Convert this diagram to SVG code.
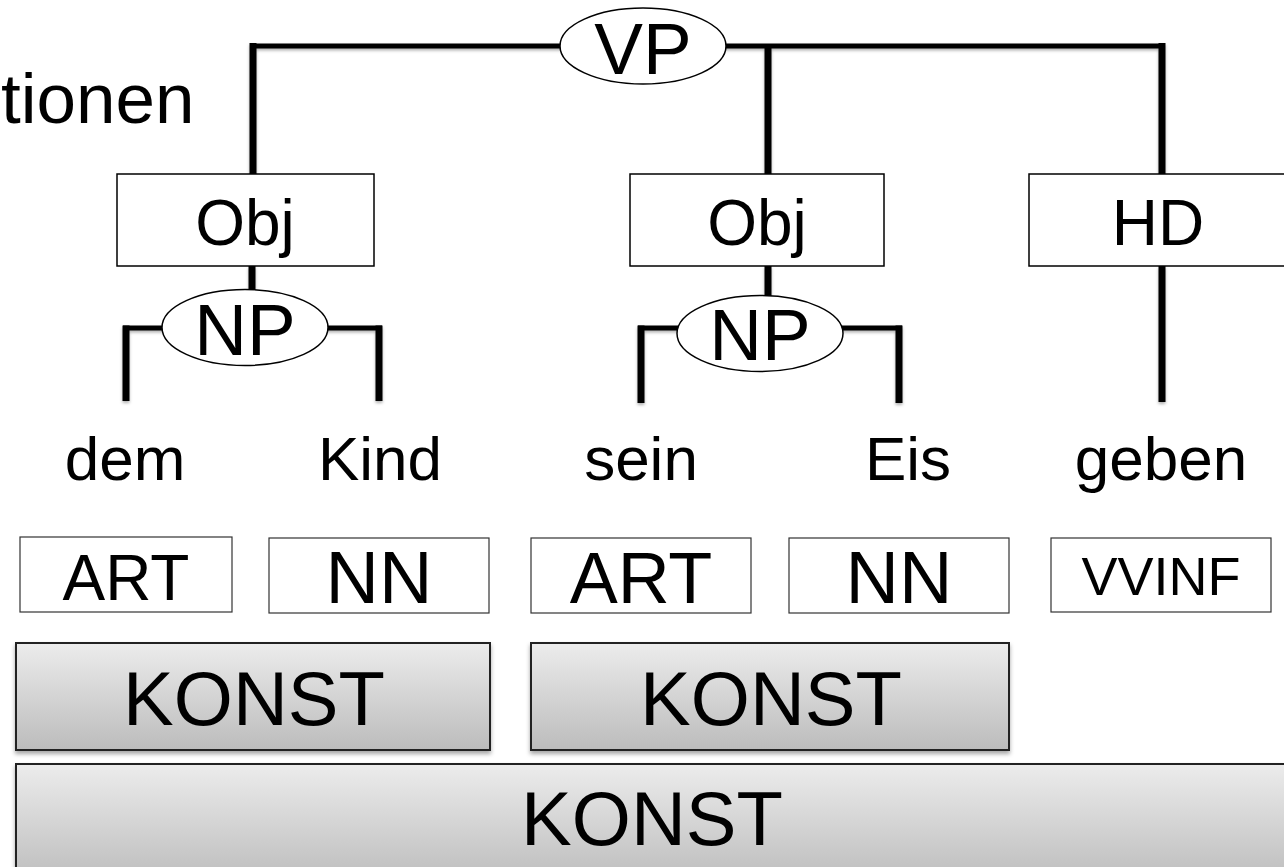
<svg xmlns="http://www.w3.org/2000/svg" width="1284" height="867" viewBox="0 0 1284 867">
<defs>
<linearGradient id="gk" x1="0" y1="0" x2="0" y2="1">
<stop offset="0" stop-color="#ececec"/>
<stop offset="1" stop-color="#bcbcbc"/>
</linearGradient>
<filter id="sh" x="-5%" y="-5%" width="110%" height="120%">
<feDropShadow dx="0" dy="3" stdDeviation="2" flood-color="#000" flood-opacity="0.35"/>
</filter>
<filter id="lsh" x="-50%" y="-10%" width="200%" height="120%">
<feDropShadow dx="0" dy="2" stdDeviation="1.5" flood-color="#000" flood-opacity="0.3"/>
</filter>
</defs>
<style>
text{font-family:"Liberation Sans",Arial,Helvetica,sans-serif;fill:#000;text-anchor:middle}
.h{stroke:#000;stroke-width:5;fill:none}
.v{stroke:#000;stroke-width:7;fill:none}
.rel{fill:#fff;stroke:#000;stroke-width:1.5}
.cat{fill:#fff;stroke:#000;stroke-width:1.5}
.pos{fill:#fff;stroke:#333;stroke-width:1.2}
.konst{fill:url(#gk);stroke:#222;stroke-width:2;filter:url(#sh)}
.lbl{font-size:64px}
.cl{font-size:73px}
.w{font-size:62px}
.k{font-size:76px}
</style>
<rect width="1284" height="867" fill="#fff"/>
<text x="1" y="123" font-size="71" style="text-anchor:start">tionen</text>
<g id="connectors" filter="url(#lsh)">
<path class="h" d="M250 46 H1165"/>
<path class="v" d="M253 43 V174"/>
<path class="v" d="M768 46 V174"/>
<path class="v" d="M1162 43 V174"/>
<path class="v" d="M252 266 V292"/>
<path class="h" d="M123 328 H165"/>
<path class="h" d="M326 328 H382"/>
<path class="v" d="M126 325.5 V401"/>
<path class="v" d="M379 325.5 V401"/>
<path class="v" d="M768 266 V298"/>
<path class="h" d="M638 328 H680"/>
<path class="h" d="M840 328 H902"/>
<path class="v" d="M641 325.5 V403"/>
<path class="v" d="M899 325.5 V403"/>
<path class="v" d="M1162 266 V402"/>
</g>
<g id="VP"><ellipse class="cat" cx="643" cy="46" rx="83" ry="38"/><text class="cl" x="643" y="74">VP</text></g>
<g id="Obj1"><rect class="rel" x="117" y="174" width="257" height="92"/><text class="lbl" x="245" y="245">Obj</text></g>
<g id="Obj2"><rect class="rel" x="630" y="174" width="254" height="92"/><text class="lbl" x="757" y="245">Obj</text></g>
<g id="HD"><rect class="rel" x="1029" y="174" width="262" height="92"/><text class="lbl" x="1158" y="245">HD</text></g>
<g id="NP1"><ellipse class="cat" cx="245" cy="327.5" rx="83" ry="38"/><text class="cl" x="245" y="355">NP</text></g>
<g id="NP2"><ellipse class="cat" cx="760" cy="333.5" rx="83" ry="38"/><text class="cl" x="760" y="360">NP</text></g>
<g id="w-dem"><text class="w" x="125" y="480">dem</text></g>
<g id="w-Kind"><text class="w" x="380" y="480">Kind</text></g>
<g id="w-sein"><text class="w" x="641" y="480">sein</text></g>
<g id="w-Eis"><text class="w" x="908" y="480">Eis</text></g>
<g id="w-geben"><text class="w" x="1161" y="480">geben</text></g>
<g id="ART1"><rect class="pos" x="20" y="537" width="212" height="75"/><text x="126" y="600" font-size="64">ART</text></g>
<g id="NN1"><rect class="pos" x="269" y="538" width="220" height="75"/><text x="379" y="603" font-size="74">NN</text></g>
<g id="ART2"><rect class="pos" x="531" y="538" width="220" height="75"/><text x="641" y="603" font-size="72">ART</text></g>
<g id="NN2"><rect class="pos" x="789" y="538" width="220" height="75"/><text x="899" y="603" font-size="74">NN</text></g>
<g id="VVINF"><rect class="pos" x="1051" y="538" width="220" height="74"/><text x="1161" y="595" font-size="54">VVINF</text></g>
<g id="KONST1"><rect class="konst" x="16" y="643" width="474" height="107"/><text class="k" x="254" y="725">KONST</text></g>
<g id="KONST2"><rect class="konst" x="531" y="643" width="478" height="107"/><text class="k" x="771" y="725">KONST</text></g>
<g id="KONST3"><rect class="konst" x="16" y="764" width="1280" height="120"/><text class="k" x="652" y="845">KONST</text></g>
</svg>
